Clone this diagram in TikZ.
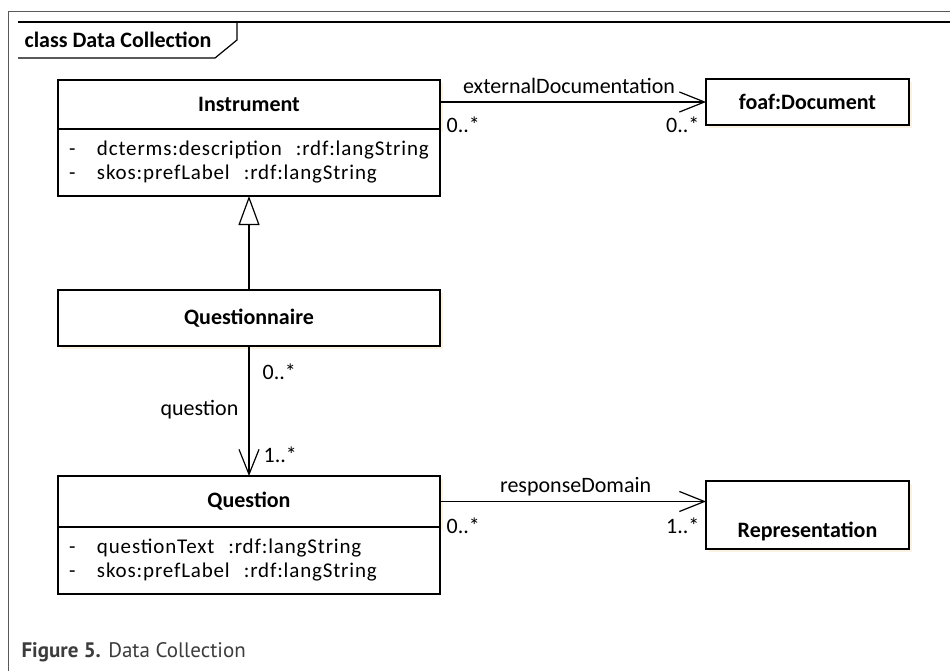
\documentclass[tikz,border=0pt]{standalone}
\usepackage{fontspec}
\setmainfont{Carlito}
\newfontfamily\attrfont[LetterSpace=4]{Carlito}
\newfontfamily\capfont{PT Sans}
\usetikzlibrary{arrows.meta,positioning,shadows}

\definecolor{shade}{RGB}{250,243,228}
\definecolor{capgray}{RGB}{60,60,60}

\tikzset{
umlbox/.style={rectangle, draw, line width=1.2pt, fill=white,
minimum width=382pt, inner sep=0pt, outer sep=0pt,
font=\fontsize{22}{26}\selectfont\bfseries,
drop shadow={shadow xshift=3pt, shadow yshift=-3pt, fill=shade, opacity=1}},
attrbox/.style={rectangle, draw, line width=1.2pt, fill=white,
minimum width=382pt, minimum height=67pt, text width=360pt,
inner xsep=11pt, inner ysep=0pt, outer sep=0pt, align=left,
font=\attrfont\fontsize{21}{24}\selectfont},
lbl/.style={font=\fontsize{22}{26}\selectfont, inner sep=1pt},
assoc/.style={line width=1.2pt,
-{Straight Barb[length=25pt, width=20pt, line width=1.2pt]}},
gen/.style={line width=1.2pt,
-{Triangle[open, length=29pt, width=21pt, line width=1.2pt]}},
}
\newcommand{\attr}[1]{\makebox[28pt][l]{-}#1}

\begin{document}
\begin{tikzpicture}[x=1pt, y=-1pt]
\useasboundingbox (0,0) rectangle (950,671);
% frame
\draw[gray!70!black, line width=1pt] (8,671) -- (8,12) -- (950,12);
\draw[line width=1.2pt] (18,22) -- (950,22);
\draw[line width=1.2pt] (18,58) -- (215,58) -- (237,40) -- (237,22);
\node[font=\fontsize{22}{26}\selectfont\bfseries] (title) at (118,40) {class Data Collection};
% classes
\node[umlbox, minimum height=49pt] (instr) at (249,104.5) {Instrument};
\node[attrbox, below=0pt of instr] (instrattr)
  {\attr{dcterms:description\ \ :rdf:langString}\\ \attr{skos:prefLabel\ \ :rdf:langString}};
\node[umlbox, minimum width=203pt, minimum height=46pt] (foaf) at (807.5,102) {foaf:Document};
\node[umlbox, minimum height=56pt] (qnaire) at (249,318) {Questionnaire};
\node[umlbox, minimum height=51pt] (quest) at (249,501.5) {Question};
\node[attrbox, below=0pt of quest] (questattr)
  {\attr{questionText\ \ :rdf:langString}\\ \attr{skos:prefLabel\ \ :rdf:langString}};
\node[umlbox, minimum width=203pt, minimum height=68pt,
  label={[font=\fontsize{22}{26}\selectfont\bfseries, yshift=-16pt]center:Representation}]
  (repr) at (807.5,515) {};
% relations
\draw[assoc] (instr.east |- foaf.west) -- (foaf.west)
  node[lbl, pos=0.485, yshift=16pt] {externalDocumentation}
  node[lbl, anchor=west, pos=0, xshift=5pt, yshift=-23pt] {0..*}
  node[lbl, anchor=east, pos=1, xshift=-5pt, yshift=-23pt] {0..*};
\draw[gen] (qnaire.north) -- (instrattr.south);
\draw[assoc] (qnaire.south) -- (quest.north)
  node[lbl, anchor=west, pos=0, xshift=12pt, yshift=-26pt] {0..*}
  node[lbl, anchor=east, pos=0.49, xshift=-9pt] {question}
  node[lbl, anchor=west, pos=1, xshift=13pt, yshift=21pt] {1..*};
\draw[assoc] (quest.east) -- (quest.east -| repr.west)
  node[lbl, pos=0.51, yshift=15pt] {responseDomain}
  node[lbl, anchor=west, pos=0, xshift=5pt, yshift=-24pt] {0..*}
  node[lbl, anchor=east, pos=1, xshift=-5pt, yshift=-24pt] {1..*};
% caption
\node[font=\capfont\fontsize{21}{24}\selectfont, text=capgray, anchor=west]
  (caption) at (18,652) {\textbf{Figure 5.} Data Collection};
\end{tikzpicture}
\end{document}
